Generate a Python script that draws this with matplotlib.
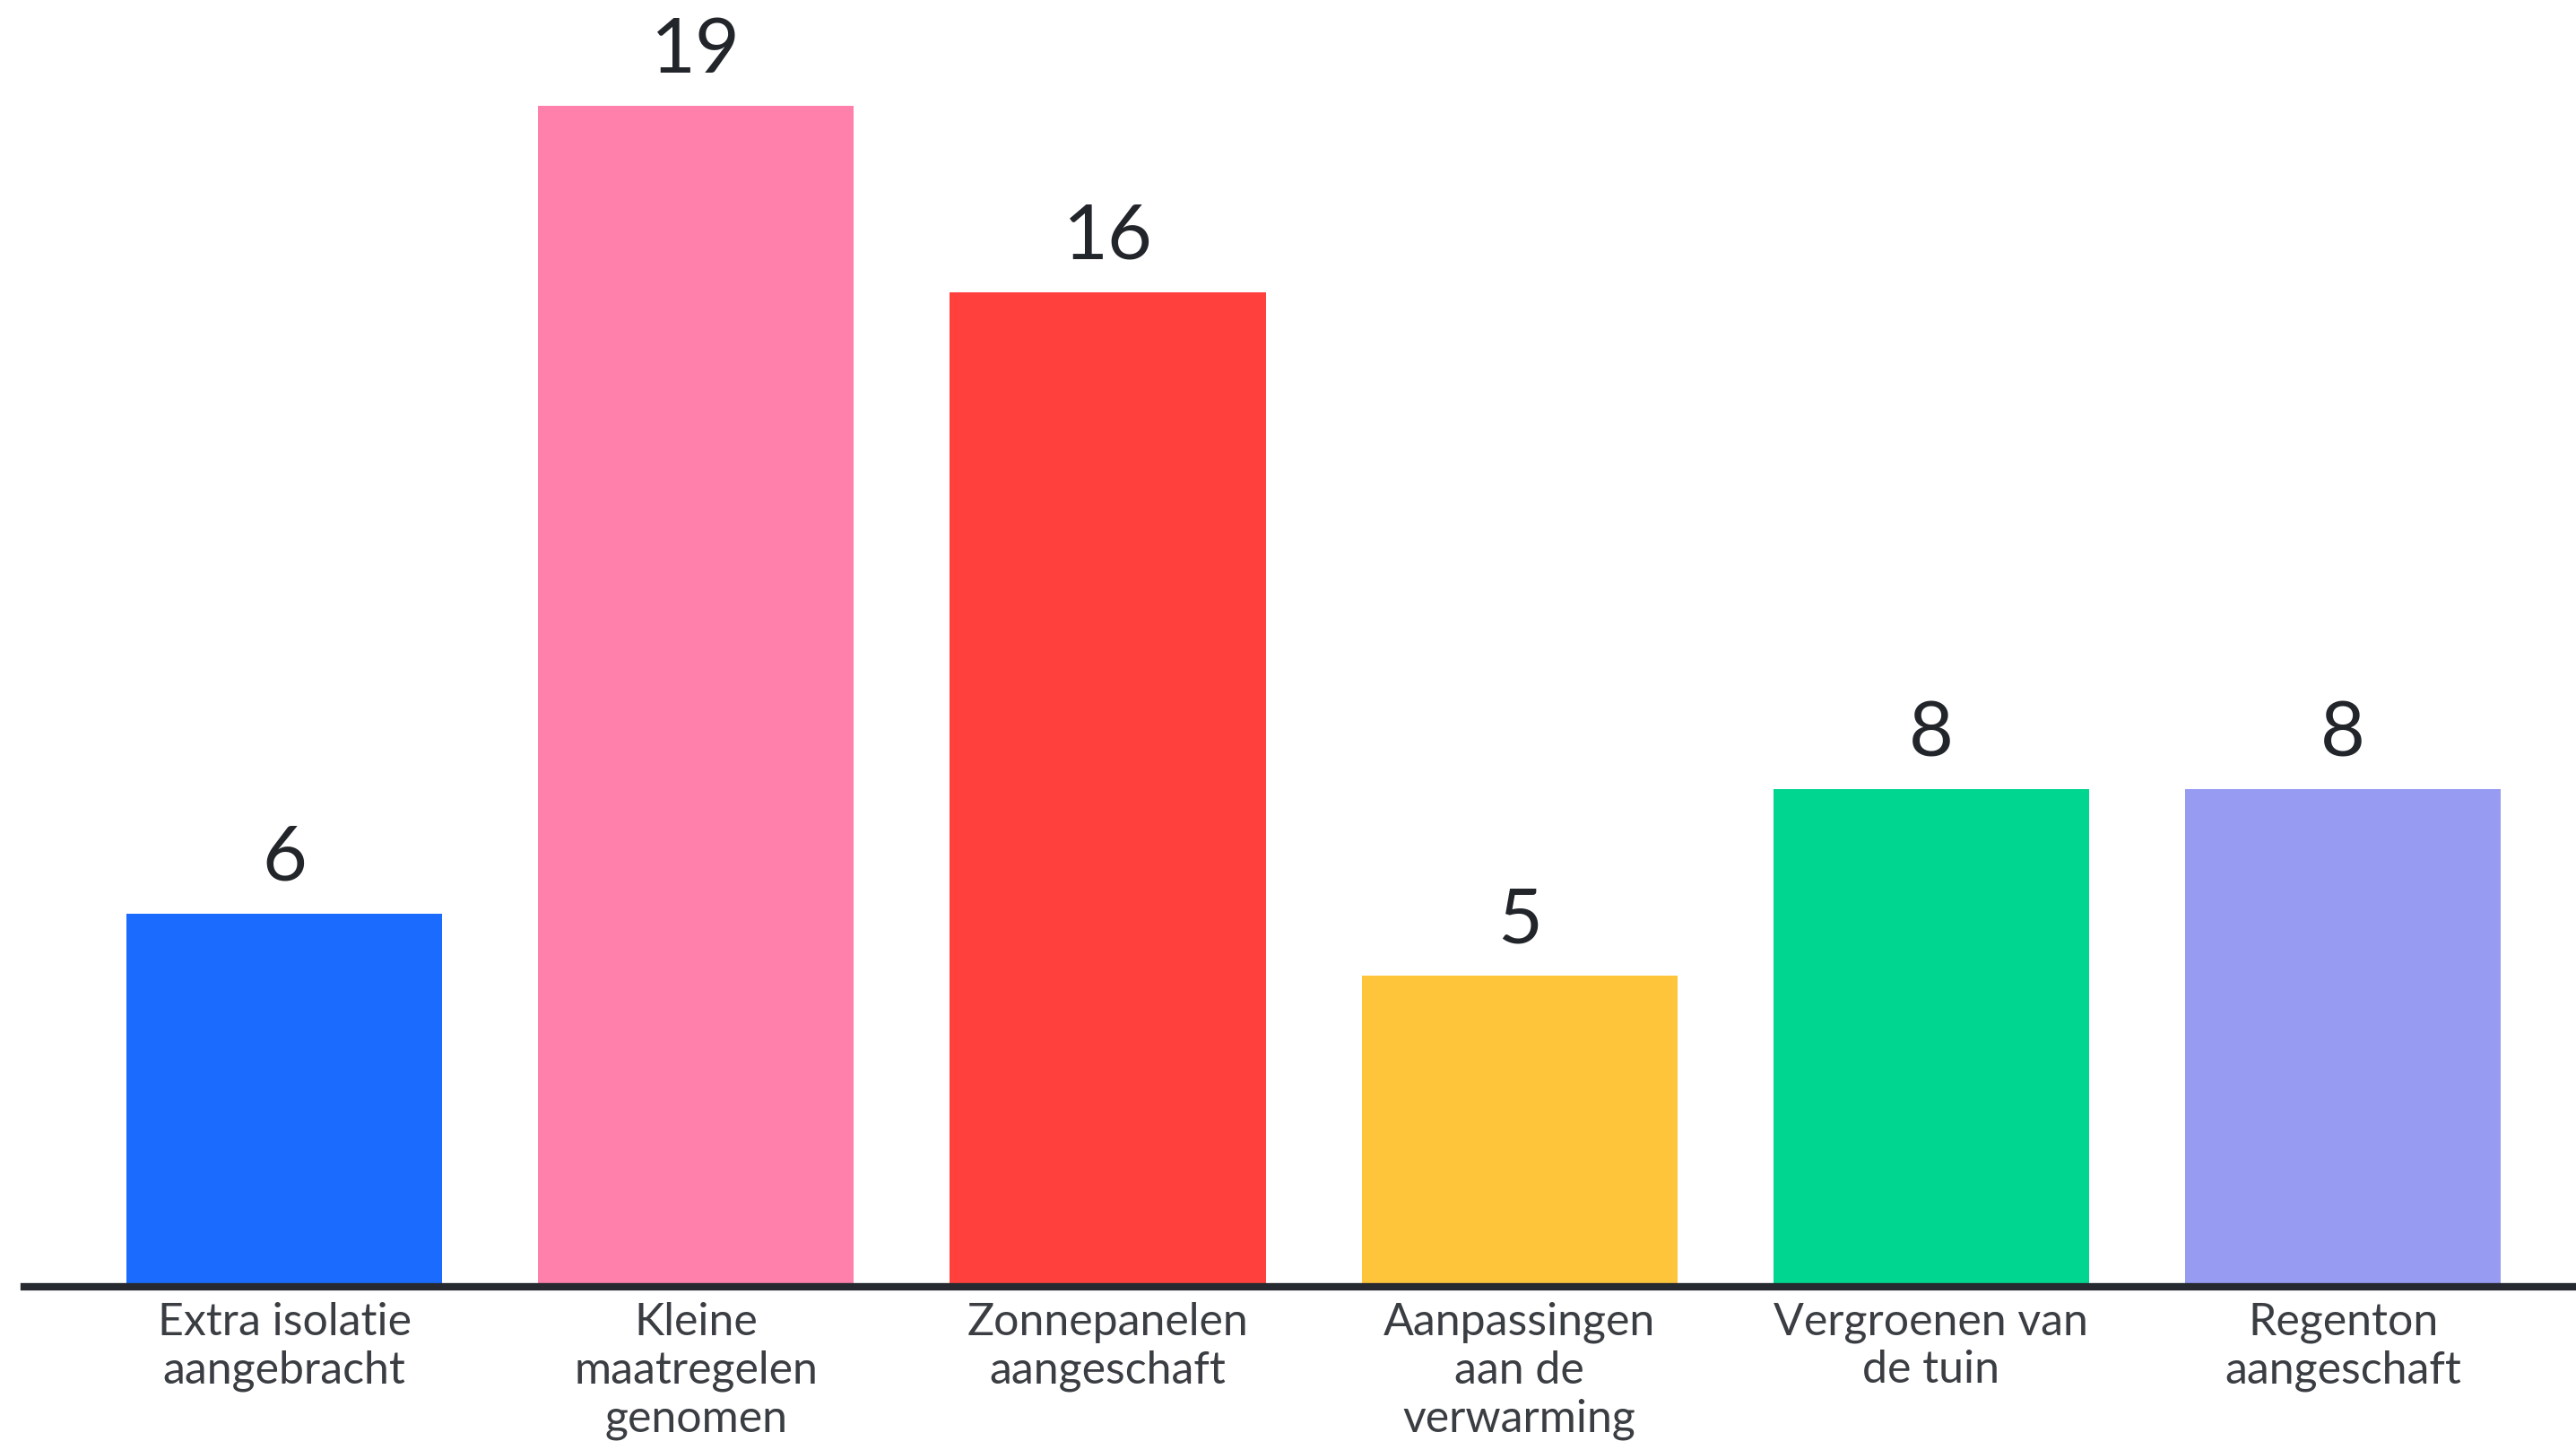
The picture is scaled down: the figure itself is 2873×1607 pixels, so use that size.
import matplotlib.pyplot as plt

# categories and counts
categories = ["Extra isolatie\naangebracht", "Kleine\nmaatregelen\ngenomen",
              "Zonnepanelen\naangeschaft", "Aanpassingen\naan de\nverwarming",
              "Vergroenen van\nde tuin", "Regenton\naangeschaft"]
values = [6, 19, 16, 5, 8, 8]
colors = ["#1B6BFF", "#FF80AA", "#FF403D", "#FFC53A", "#00D68F", "#979BF2"]

plt.rcParams['font.family'] = ['Lato', 'DejaVu Sans']

fig = plt.figure(figsize=(28.73, 16.07), dpi=100)
ax = fig.add_axes([0.0094, 0.107, 0.9906, 0.893])

x = list(range(len(values)))
bars = ax.bar(x, values, width=0.767, color=colors, zorder=2)

for xi, v in zip(x, values):
    ax.annotate(str(v), (xi, v), xytext=(0, 16), textcoords='offset points',
                ha='center', va='bottom', fontsize=62, color='#22252a')

ax.set_xlim(-0.632, 5.566)
ax.set_ylim(0, 20.7)

for s in ['top', 'right', 'left']:
    ax.spines[s].set_visible(False)
ax.spines['bottom'].set_linewidth(6)
ax.spines['bottom'].set_color('#262a30')
ax.spines['bottom'].set_zorder(3)

ax.set_yticks([])
ax.set_xticks(x)
ax.set_xticklabels(categories, fontsize=36, color='#3a3d42', linespacing=1.2)
ax.tick_params(axis='x', length=0, pad=12)

fig.savefig('out.png', dpi=100)
